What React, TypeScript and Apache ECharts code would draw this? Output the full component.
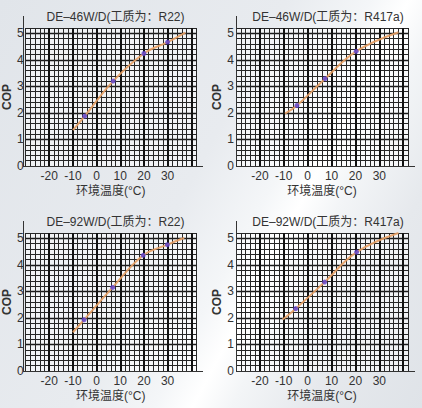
import React, { useEffect, useRef } from "react";
import * as echarts from "echarts";

// ---- data ----
const titles = [
  "DE–46W/D(工质为：R22)",
  "DE–46W/D(工质为：R417a)",
  "DE–92W/D(工质为：R22)",
  "DE–92W/D(工质为：R417a)",
];

const p1LineT = [-10, -5, 7, 20, 30, 37.5];
const p1LineCop = [1.35, 1.88, 3.2, 4.24, 4.67, 5.03];
const p1PtT = [-5, 7, 20, 30];
const p1PtCop = [1.88, 3.2, 4.24, 4.67];

const p2LineT = [-9.5, -4.5, 7.3, 20.3, 38];
const p2LineCop = [1.97, 2.28, 3.29, 4.32, 5.04];
const p2PtT = [-4.5, 7.3, 20.3];
const p2PtCop = [2.28, 3.29, 4.32];

const p3LineT = [-10, -5.3, 6.8, 19.7, 29.9, 37];
const p3LineCop = [1.46, 1.93, 3.15, 4.36, 4.76, 5.01];
const p3PtT = [-5.3, 6.8, 19.7, 29.9];
const p3PtCop = [1.93, 3.15, 4.36, 4.76];

const p4LineT = [-10.5, -5, 7.1, 20.5, 38];
const p4LineCop = [1.94, 2.35, 3.35, 4.48, 5.2];
const p4PtT = [-5, 7.1, 20.5];
const p4PtCop = [2.35, 3.35, 4.48];

const xMin = -30;
const xMax = 42;
const xMajor = 10;
const xMinor = 2;
const yMin = 0;
const yMax = 5.2;
const yMajor = 1;
const yMinor = 0.2;
const xName = "环境温度(°C)";
const yName = "COP";

const panels = [
  { lt: p1LineT, lc: p1LineCop, pt: p1PtT, pc: p1PtCop },
  { lt: p2LineT, lc: p2LineCop, pt: p2PtT, pc: p2PtCop },
  { lt: p3LineT, lc: p3LineCop, pt: p3PtT, pc: p3PtCop },
  { lt: p4LineT, lc: p4LineCop, pt: p4PtT, pc: p4PtCop },
];

// ---- layout ----
const grids = [
  { left: 23, top: 28, width: 173, height: 138 },
  { left: 236, top: 28, width: 172, height: 138 },
  { left: 23, top: 233, width: 173, height: 138 },
  { left: 236, top: 233, width: 172, height: 138 },
];

const FONT = "'Liberation Sans', Arial, 'Noto Sans CJK SC', sans-serif";
const TEXT = "#333";

export default function App() {
  const ref = useRef<HTMLDivElement>(null);

  useEffect(() => {
    if (!ref.current) return;
    const chart = echarts.init(ref.current, undefined, { renderer: "svg" });

    const grid: any[] = [];
    const xAxis: any[] = [];
    const yAxis: any[] = [];
    const series: any[] = [];
    const graphic: any[] = [];

    grids.forEach((g, i) => {
      grid.push({ ...g, show: true, backgroundColor: "rgba(255,255,255,0.45)", borderWidth: 0 });
      // minor axes (thin grid lines)
      xAxis.push({
        type: "value", gridIndex: i, position: "bottom", min: xMin, max: xMax, interval: xMinor,
        axisLine: { show: false }, axisTick: { show: false }, axisLabel: { show: false },
        splitLine: { show: true, lineStyle: { color: "#262626", width: 1 } },
      });
      yAxis.push({
        type: "value", gridIndex: i, position: "left", min: yMin, max: yMax, interval: yMinor,
        axisLine: { show: false }, axisTick: { show: false }, axisLabel: { show: false },
        splitLine: { show: true, lineStyle: { color: "#262626", width: 1 } },
      });
      // major axes (thick lines + labels)
      xAxis.push({
        type: "value", gridIndex: i, position: "bottom", min: xMin, max: xMax, interval: xMajor,
        axisLine: { show: false }, axisTick: { show: false },
        axisLabel: {
          color: TEXT, fontSize: 12, fontFamily: FONT, margin: 4,
          formatter: (v: number) => (v <= -30 || v >= 40 ? "" : String(v)),
        },
        splitLine: { show: true, showMinLine: false, showMaxLine: false, lineStyle: { color: "#111", width: 2 } },
        name: xName, nameLocation: "middle", nameGap: 19,
        nameTextStyle: { color: TEXT, fontSize: 12, fontFamily: FONT },
      });
      yAxis.push({
        type: "value", gridIndex: i, position: "left", min: yMin, max: yMax, interval: yMajor,
        axisLine: { show: false }, axisTick: { show: false },
        axisLabel: {
          color: TEXT, fontSize: 12, fontFamily: FONT, margin: 2,
          formatter: (v: number) => (Number.isInteger(v) ? String(v) : ""),
        },
        splitLine: { show: true, showMinLine: false, showMaxLine: false, lineStyle: { color: "#1a1a1a", width: 1.4 } },
        name: yName, nameLocation: "middle", nameGap: 8,
        nameTextStyle: { color: TEXT, fontSize: 12, fontFamily: FONT, fontWeight: "bold" },
      });

      const p = panels[i];
      series.push({
        type: "line", xAxisIndex: 2 * i + 1, yAxisIndex: 2 * i + 1,
        data: p.lt.map((t, k) => [t, p.lc[k]]),
        smooth: 0.4, showSymbol: false, symbol: "none",
        lineStyle: { color: "rgba(232,160,100,0.9)", width: 2 },
        z: 5,
      });
      series.push({
        type: "scatter", xAxisIndex: 2 * i + 1, yAxisIndex: 2 * i + 1,
        data: p.pt.map((t, k) => [t, p.pc[k]]),
        symbol: "circle", symbolSize: 5,
        itemStyle: { color: "#5b3fd0" },
        z: 6,
      });

      // axis lines (extend a little beyond the plot)
      graphic.push({
        type: "line", z: 10,
        shape: { x1: g.left + 0.5, y1: g.top - 12, x2: g.left + 0.5, y2: g.top + g.height },
        style: { stroke: "#333", lineWidth: 1 },
      });
      graphic.push({
        type: "line", z: 10,
        shape: { x1: g.left, y1: g.top + g.height + 0.5, x2: g.left + g.width + 7, y2: g.top + g.height + 0.5 },
        style: { stroke: "#333", lineWidth: 1 },
      });
      graphic.push({
        type: "text", z: 10,
        x: g.left + g.width / 2 + 6, y: g.top - 11,
        style: {
          text: titles[i], fill: TEXT, font: `12px ${FONT}`,
          align: "center", verticalAlign: "middle",
        },
      });
    });

    chart.setOption({
      animation: false,
      backgroundColor: "transparent",
      grid, xAxis, yAxis, series, graphic,
    });

    return () => chart.dispose();
  }, []);

  return (
    <div
      style={{
        position: "fixed", left: 0, top: 0, width: 422, height: 408,
        background:
          "linear-gradient(118deg, #e1e5ea 0%, #e8ebef 45%, #f4f6f8 58%, #ffffff 64%, #f3f5f7 70%, #e6e9ed 82%, #dfe3e8 100%)",
      }}
    >
      <div ref={ref} style={{ width: 422, height: 408 }} />
    </div>
  );
}
